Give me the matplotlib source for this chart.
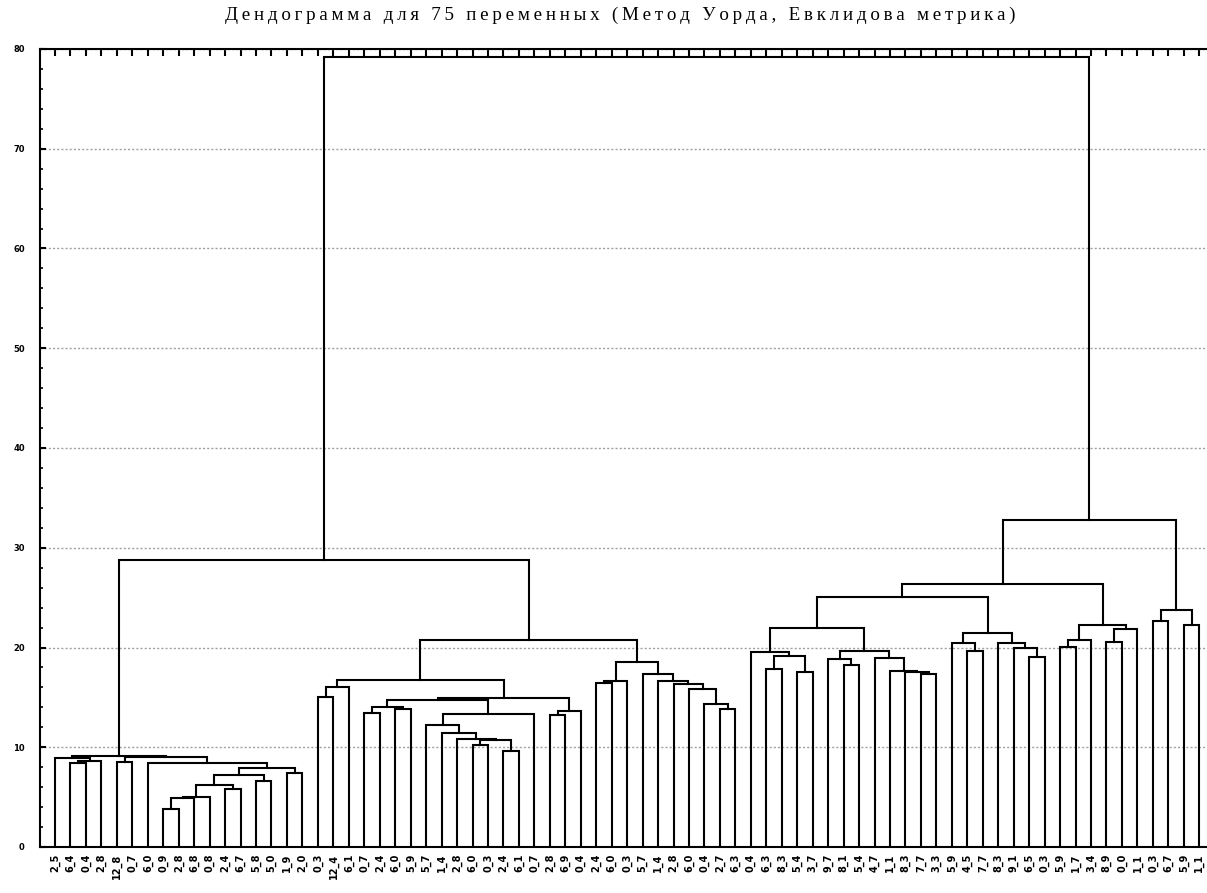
import numpy as np
import matplotlib.pyplot as plt

#%% Data
title = 'Дендограмма для 75 переменных (Метод Уорда, Евклидова метрика)'

# leaf labels in dendrogram order (left to right)
leaf_labels = ['2_5', '6_4', '0_4', '2_8', '12_8', '0_7', '6_0', '0_9', '2_8', '6_8',
               '0_8', '2_4', '6_7', '5_8', '5_0', '1_9', '2_0', '0_3', '12_4', '6_1',
               '0_7', '2_4', '6_0', '5_9', '5_7', '1_4', '2_8', '6_0', '0_3', '2_4',
               '6_1', '0_7', '2_8', '6_9', '0_4', '2_4', '6_0', '0_3', '5_7', '1_4',
               '2_8', '6_0', '0_4', '2_7', '6_3', '0_4', '6_3', '8_3', '5_4', '3_7',
               '9_7', '8_1', '5_4', '4_7', '1_1', '8_3', '7_7', '3_3', '5_9', '4_5',
               '7_7', '8_3', '9_1', '6_5', '0_3', '5_9', '1_7', '3_4', '8_9', '0_0',
               '1_1', '0_3', '6_7', '5_9', '1_1']

# merges written as (left, right, height); an int is a leaf position
# cluster A, leaves 0..16
a_core = ((((((7, 8, 3.8), 9, 4.9), 10, 5.0), (11, 12, 5.8), 6.2),
           (13, 14, 6.6), 7.2), (15, 16, 7.45), 7.9)
a_left = (0, ((1, 2, 8.45), 3, 8.6), 8.89)
a_right = ((4, 5, 8.56), (6, a_core, 8.45), 9.05)
tree_A = (a_left, a_right, 9.15)

# cluster B, leaves 17..44
b1_p = ((17, 18, 15.06), 19, 16.07)
b1_q = ((20, 21, 13.4), (22, 23, 13.8), 14.07)
b1_r = ((24, (25, (26, ((27, 28, 10.23), (29, 30, 9.64), 10.73), 10.83), 11.46), 12.23),
        31, 13.3)
b1_s = ((32, 33, 13.2), 34, 13.67)
tree_B1 = (b1_p, ((b1_q, b1_r, 14.74), b1_s, 14.9), 16.7)
tree_B2 = (((35, 36, 16.47), 37, 16.67),
           (38, (39, (40, (41, (42, (43, 44, 13.8), 14.3), 15.86), 16.33), 16.67), 17.37),
           18.52)
tree_B = (tree_B1, tree_B2, 20.77)

# cluster C, leaves 45..74
c_a1 = ((45, ((46, 47, 17.87), (48, 49, 17.5), 19.1), 19.52),
        ((50, (51, 52, 18.28), 18.85),
         (53, (54, (55, (56, 57, 17.3), 17.5), 17.67), 18.92), 19.68), 22.0)
c_a2 = ((58, (59, 60, 19.68), 20.46), (61, (62, (63, 64, 19.08), 19.9), 20.46), 21.5)
c_b = (((65, 66, 20.1), 67, 20.77), ((68, 69, 20.6), 70, 21.9), 22.3)
c_c = ((71, 72, 22.7), (73, 74, 22.27), 23.8)
tree_C = (((c_a1, c_a2, 25.1), c_b, 26.35), c_c, 32.8)

tree = ((tree_A, tree_B, 28.8), tree_C, 79.2)

#%% Figure
fig = plt.figure(figsize=(12.07, 8.93), dpi=100)
ax = fig.add_axes([40/1207, 46/893, 1167/1207, 798/893])


def draw(node):
    if isinstance(node, int):
        return float(node), 0.0
    left, right, h = node
    xl, hl = draw(left)
    xr, hr = draw(right)
    ax.plot([xl, xl, xr, xr], [hl, h, h, hr], color='k', lw=1.5,
            solid_joinstyle='miter', zorder=3)
    return (xl + xr) / 2, h


draw(tree)

n = len(leaf_labels)
ax.set_xlim(-0.97, n - 0.5)
ax.set_ylim(0, 80)

# grid
ax.set_yticks(np.arange(0, 81, 10))
ax.set_yticks(np.arange(0, 81, 2), minor=True)
ax.yaxis.grid(True, which='major', color='#a0a0a0', linestyle=(0, (1.5, 1.5)), lw=1)
ax.set_axisbelow(True)

ax.tick_params(axis='y', which='major', direction='in', length=4, width=1.5,
               labelsize=6, pad=11)
ax.tick_params(axis='y', which='minor', direction='in', length=2, width=1.2)
for lab in ax.get_yticklabels():
    lab.set_fontweight('bold')

# leaf ticks on top, labels below
ax.set_xticks(np.arange(n))
ax.set_xticklabels(leaf_labels, rotation=90, fontsize=7, fontweight='bold',
                   va='top')
ax.tick_params(axis='x', which='major', bottom=False, top=True, direction='in',
               length=5, width=1.5, pad=5)
ax.tick_params(axis='x', labelbottom=True)

for sp in ax.spines.values():
    sp.set_linewidth(1.5)
ax.spines['right'].set_visible(False)

# title: thin spaces between characters to widen it like the original
fig.text(0.514, 0.992, '\u2009'.join(title), ha='center', va='top', fontsize=13.7,
         family=['Liberation Serif', 'DejaVu Serif'])

fig.savefig('out.png', dpi=100)
